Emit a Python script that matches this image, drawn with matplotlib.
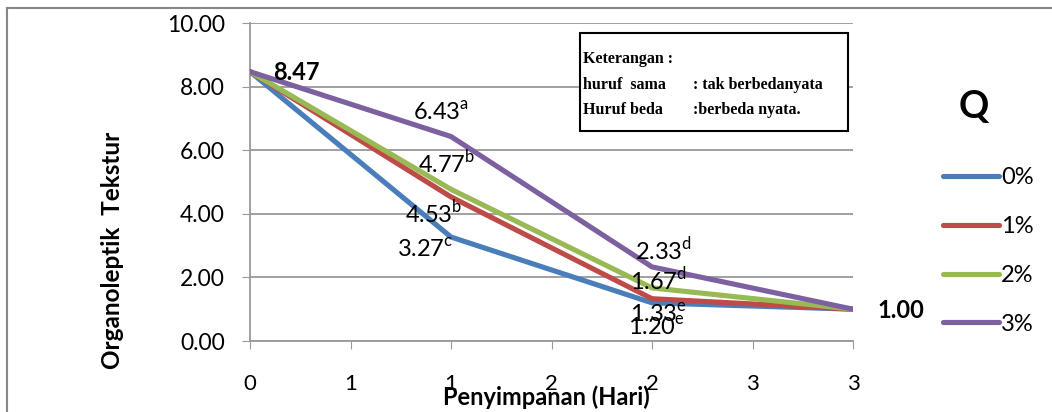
import matplotlib.pyplot as plt
from matplotlib.patches import Rectangle

plt.rcParams['font.family'] = ['Lato', 'DejaVu Sans']

# data
days = [0, 1, 2, 3]
series_names = ['0%', '1%', '2%', '3%']
q0 = [8.47, 3.27, 1.20, 1.00]
q1 = [8.47, 4.53, 1.33, 1.00]
q2 = [8.47, 4.77, 1.67, 1.00]
q3 = [8.47, 6.43, 2.33, 1.00]
colors = ['#4A7EBB', '#BE4B48', '#98B954', '#7D60A0']
xtick_pos = [0, 0.5, 1, 1.5, 2, 2.5, 3]
xtick_labels = ['0', '1', '1', '2', '2', '3', '3']
ytick_pos = [0, 2, 4, 6, 8, 10]

# significance labels: (day index, value, letter)
notes = [
    (1, 6.43, 'a'),
    (1, 4.77, 'b'),
    (1, 4.53, 'b'),
    (1, 3.27, 'c'),
    (2, 2.33, 'd'),
    (2, 1.67, 'd'),
    (2, 1.33, 'e'),
    (2, 1.20, 'e'),
]
# where each label sits relative to its point (dx, dy in data units)
note_offsets = [(-0.19, 0.74), (-0.165, 0.83), (-0.23, -0.50), (-0.27, -0.41),
                (-0.085, 0.53), (-0.11, 0.25), (-0.11, -0.51), (-0.12, -0.79)]

W, H = 1052, 412
fig = plt.figure(figsize=(W / 100, H / 100), dpi=100)
ax = fig.add_axes([250 / W, (H - 341) / H, 603 / W, 318 / H])

for vals, name, c in zip([q0, q1, q2, q3], series_names, colors):
    ax.plot(days, vals, color=c, lw=3.7, label=name, solid_capstyle='round', zorder=3)

ax.set_xlim(0, 3)
ax.set_ylim(0, 10)
ax.set_yticks(ytick_pos, [f'{v:.2f}' for v in ytick_pos], fontsize=16.5)
ax.set_xticks(xtick_pos, xtick_labels, fontsize=16)
ax.tick_params(axis='x', pad=18, length=6, color='#999999')
ax.tick_params(axis='y', pad=12, length=6, color='#999999')
ax.yaxis.grid(True, color='#999999', lw=1.3)
ax.set_axisbelow(True)
for s in ['top', 'right']:
    ax.spines[s].set_visible(False)
for s in ['left', 'bottom']:
    ax.spines[s].set_color('#999999')
    ax.spines[s].set_linewidth(1.3)

for (d, v, l), (dx, dy) in zip(notes, note_offsets):
    ax.text(days[d] + dx, v + dy, f'{v:.2f}' + '$^{\\mathregular{' + l + '}}$', fontsize=17,
            ha='left', va='center', zorder=5)
ax.text(0.114, q0[0] - 0.04, f'{q0[0]:.2f}', fontsize=17, fontweight='bold',
        ha='left', va='center')
ax.text(3.12, q0[-1] - 0.03, f'{q0[-1]:.2f}', fontsize=17, fontweight='bold',
        ha='left', va='center', clip_on=False)

# keterangan box
ax.add_patch(Rectangle((580 / W, (H - 131) / H), 268 / W, 98 / H, transform=fig.transFigure,
                       facecolor='white', edgecolor='black', lw=1.5, zorder=6,
                       clip_on=False))
serif = dict(family='Liberation Serif', fontweight='bold', fontsize=11.5, va='center', zorder=7)
fig.text(583 / W, 1 - 59 / H, 'Keterangan :', **serif)
fig.text(583 / W, 1 - 85 / H, 'huruf  sama', **serif)
fig.text(693 / W, 1 - 85 / H, ': tak berbedanyata', **serif)
fig.text(583 / W, 1 - 110 / H, 'Huruf beda', **serif)
fig.text(693 / W, 1 - 110 / H, ':berbeda nyata.', **serif)

fig.text(112 / W, 1 - 250 / H, 'Organoleptik  Tekstur', rotation=90, fontsize=17.5,
         fontweight='bold', ha='center', va='center')
fig.text(546 / W, 1 - 397 / H, 'Penyimpanan (Hari)', fontsize=17, fontweight='bold',
         ha='center', va='center')

fig.text(974 / W, 1 - 107 / H, 'Q', fontsize=27, fontweight='bold', ha='center', va='center')
leg = fig.legend(loc='upper left', bbox_to_anchor=(936 / W, 1 - 160 / H), frameon=False,
                 fontsize=17, handlelength=2.35, handletextpad=0.1, labelspacing=1.18,
                 borderaxespad=0, borderpad=0.3)

# outer border
fig.add_artist(plt.Line2D([7 / W, 7 / W], [0, 1 - 8 / H], transform=fig.transFigure,
                          color='#888888', lw=1.5))
fig.add_artist(plt.Line2D([7 / W, 1], [1 - 8 / H, 1 - 8 / H], transform=fig.transFigure,
                          color='#888888', lw=1.5))

fig.savefig('out.png', dpi=100)
